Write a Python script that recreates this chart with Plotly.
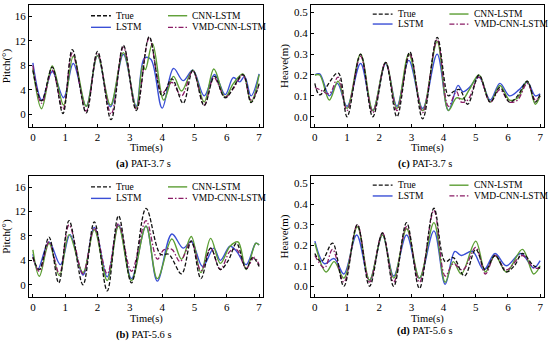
import plotly.graph_objects as go

# ---------------- data ----------------
# (a) Pitch, PAT-3.7 s
A_TRUE_T = [0, 0.27, 0.6, 0.93, 1.22, 1.65, 2.0, 2.42, 2.8, 3.2, 3.6, 4.0, 4.3, 4.65, 4.95, 5.3, 5.62, 5.95, 6.5, 6.75, 7.0]
A_TRUE_Y = [7.2, 2.2, 7.7, 0.1, 10.6, 0.2, 10.3, -0.9, 11.3, 0.6, 12.7, 3.0, 5.8, 1.8, 7.2, 1.4, 6.2, 2.7, 6.5, 1.9, 5.0]
A_LSTM_T = [0, 0.28, 0.6, 0.95, 1.25, 1.65, 2.0, 2.4, 2.8, 3.2, 3.45, 3.65, 4.0, 4.35, 4.65, 4.95, 5.3, 5.62, 5.95, 6.2, 6.4, 6.55, 6.75, 7.0]
A_LSTM_Y = [8.4, 2.3, 7.0, 2.7, 8.3, 1.3, 9.6, 1.2, 9.8, 1.3, 9.2, 9.0, 1.0, 7.5, 5.5, 7.2, 3.0, 6.5, 3.2, 6.0, 5.3, 6.2, 3.0, 6.6]
A_CNN_T = [0, 0.27, 0.6, 0.95, 1.25, 1.65, 2.0, 2.4, 2.8, 3.2, 3.4, 3.48, 3.7, 4.05, 4.35, 4.6, 4.95, 5.3, 5.6, 5.95, 6.2, 6.5, 6.75, 7.0]
A_CNN_Y = [7.5, 0.9, 7.9, 1.5, 9.5, 1.3, 9.6, 1.5, 10.1, 1.0, 8.0, 7.3, 11.6, 2.3, 6.2, 3.8, 7.2, 2.0, 7.4, 2.8, 5.0, 6.6, 2.0, 6.5]
A_VMD_T = [0, 0.27, 0.6, 0.93, 1.22, 1.65, 2.0, 2.42, 2.8, 3.2, 3.6, 4.0, 4.3, 4.6, 4.95, 5.3, 5.6, 5.95, 6.2, 6.5, 6.75, 7.0]
A_VMD_Y = [8.0, 1.8, 7.2, 0.8, 10.0, 0.5, 10.0, 0.0, 11.0, 0.8, 12.5, 3.5, 5.2, 3.0, 7.1, 1.5, 6.0, 2.8, 4.2, 6.4, 2.3, 4.8]

# (b) Pitch, PAT-5.6 s
B_TRUE_T = [0, 0.2, 0.5, 0.8, 1.12, 1.55, 1.9, 2.3, 2.65, 3.05, 3.5, 3.95, 4.2, 4.6, 4.9, 5.2, 5.5, 5.8, 6.05, 6.3, 6.6, 6.8, 7.0]
B_TRUE_Y = [4.5, 2.5, 7.8, 0.3, 10.5, 0.0, 10.3, -1.0, 11.3, 0.3, 12.5, 5.0, 5.0, 1.8, 7.2, 1.0, 6.0, 2.5, 4.0, 6.8, 2.6, 4.5, 3.0]
B_LSTM_T = [0, 0.15, 0.5, 0.85, 1.15, 1.55, 1.9, 2.3, 2.65, 3.05, 3.5, 3.85, 4.3, 4.65, 4.9, 5.25, 5.6, 5.8, 6.1, 6.3, 6.6, 6.9, 7.0]
B_LSTM_Y = [5.0, 2.5, 7.0, 3.3, 8.2, 1.6, 9.4, 1.3, 9.8, 1.0, 9.6, 0.6, 8.3, 6.0, 7.1, 3.0, 6.0, 4.0, 6.3, 5.5, 3.3, 6.8, 6.5]
B_CNN_T = [0, 0.2, 0.5, 0.82, 1.12, 1.55, 1.9, 2.3, 2.65, 3.05, 3.5, 3.85, 4.3, 4.6, 4.9, 5.2, 5.5, 5.8, 6.1, 6.35, 6.6, 6.9, 7.0]
B_CNN_Y = [5.7, 1.4, 6.8, 1.5, 8.2, 2.0, 9.0, 0.7, 9.6, 0.7, 9.6, 1.0, 7.5, 4.2, 7.9, 2.0, 7.6, 3.5, 6.3, 7.0, 2.5, 6.8, 6.5]
B_VMD_T = [0, 0.2, 0.5, 0.82, 1.12, 1.55, 1.9, 2.3, 2.65, 3.05, 3.5, 3.85, 4.05, 4.3, 4.55, 4.9, 5.2, 5.5, 5.8, 6.1, 6.3, 6.6, 6.85, 7.0]
B_VMD_Y = [4.5, 2.2, 7.0, 1.8, 9.8, 1.8, 9.3, 1.8, 10.0, 2.2, 10.5, 4.2, 5.7, 5.8, 3.8, 7.0, 2.3, 6.0, 2.5, 5.5, 5.8, 2.7, 4.5, 3.2]

# (c) Heave, PAT-3.7 s
C_TRUE_T = [0, 0.15, 0.72, 1.0, 1.42, 1.8, 2.2, 2.55, 2.95, 3.35, 3.8, 4.15, 4.3, 4.5, 4.75, 5.1, 5.45, 5.75, 6.05, 6.3, 6.6, 6.85, 7.0]
C_TRUE_Y = [0.16, 0.105, 0.21, 0.0, 0.30, 0.0, 0.26, 0.0, 0.31, -0.01, 0.38, 0.10, 0.12, 0.13, 0.06, 0.20, 0.07, 0.14, 0.07, 0.10, 0.17, 0.07, 0.11]
C_LSTM_T = [0, 0.15, 0.45, 0.7, 1.0, 1.42, 1.8, 2.2, 2.55, 2.92, 3.35, 3.8, 4.15, 4.45, 4.6, 4.8, 5.1, 5.45, 5.75, 6.05, 6.35, 6.6, 6.85, 7.0]
C_LSTM_Y = [0.20, 0.205, 0.10, 0.16, 0.05, 0.255, 0.03, 0.255, 0.05, 0.27, 0.04, 0.30, 0.03, 0.15, 0.12, 0.14, 0.19, 0.08, 0.16, 0.10, 0.13, 0.165, 0.10, 0.11]
C_CNN_T = [0, 0.15, 0.45, 0.72, 1.0, 1.42, 1.8, 2.2, 2.55, 2.92, 3.35, 3.8, 4.15, 4.4, 4.6, 4.8, 5.1, 5.45, 5.75, 6.05, 6.3, 6.6, 6.85, 7.0]
C_CNN_Y = [0.20, 0.20, 0.08, 0.17, 0.04, 0.30, 0.03, 0.26, 0.04, 0.30, 0.03, 0.36, 0.03, 0.09, 0.085, 0.13, 0.20, 0.07, 0.15, 0.08, 0.09, 0.17, 0.06, 0.10]
C_VMD_T = [0, 0.15, 0.45, 0.72, 1.0, 1.42, 1.8, 2.2, 2.55, 2.95, 3.35, 3.8, 4.15, 4.4, 4.55, 4.75, 5.1, 5.45, 5.75, 6.05, 6.3, 6.6, 6.85, 7.0]
C_VMD_Y = [0.14, 0.13, 0.11, 0.19, 0.03, 0.29, 0.02, 0.26, 0.03, 0.30, 0.02, 0.37, 0.05, 0.12, 0.07, 0.08, 0.19, 0.07, 0.13, 0.07, 0.08, 0.16, 0.08, 0.10]

# (d) Heave, PAT-5.6 s
D_TRUE_T = [0, 0.2, 0.55, 0.9, 1.32, 1.7, 2.1, 2.45, 2.85, 3.25, 3.7, 4.05, 4.3, 4.65, 5.0, 5.3, 5.6, 5.95, 6.2, 6.45, 6.8, 7.0]
D_TRUE_Y = [0.16, 0.12, 0.21, 0.0, 0.30, 0.0, 0.26, 0.0, 0.31, -0.01, 0.38, 0.12, 0.14, 0.05, 0.18, 0.08, 0.15, 0.07, 0.10, 0.16, 0.10, 0.09]
D_LSTM_T = [0, 0.3, 0.6, 0.9, 1.3, 1.7, 2.1, 2.45, 2.85, 3.25, 3.7, 4.05, 4.35, 4.55, 4.9, 5.25, 5.6, 5.95, 6.4, 6.8, 7.0]
D_LSTM_Y = [0.22, 0.11, 0.135, 0.06, 0.25, 0.03, 0.25, 0.05, 0.25, 0.04, 0.27, 0.01, 0.17, 0.15, 0.17, 0.08, 0.16, 0.10, 0.16, 0.09, 0.125]
D_CNN_T = [0, 0.35, 0.6, 0.9, 1.32, 1.7, 2.1, 2.45, 2.85, 3.25, 3.7, 4.05, 4.3, 4.55, 5.0, 5.3, 5.6, 5.95, 6.45, 6.8, 7.0]
D_CNN_Y = [0.21, 0.07, 0.12, 0.04, 0.29, 0.03, 0.25, 0.04, 0.28, 0.04, 0.31, 0.02, 0.12, 0.06, 0.22, 0.07, 0.15, 0.07, 0.18, 0.06, 0.10]
D_VMD_T = [0, 0.3, 0.55, 0.9, 1.32, 1.7, 2.1, 2.45, 2.85, 3.25, 3.7, 4.05, 4.3, 4.6, 5.0, 5.3, 5.6, 5.95, 6.45, 6.8, 7.0]
D_VMD_Y = [0.15, 0.09, 0.18, 0.02, 0.30, 0.02, 0.26, 0.02, 0.29, 0.02, 0.37, 0.05, 0.11, 0.08, 0.19, 0.06, 0.15, 0.08, 0.15, 0.09, 0.09]

SERIES_NAMES = ["True", "LSTM", "CNN-LSTM", "VMD-CNN-LSTM"]
X_TICKS = [0, 1, 2, 3, 4, 5, 6, 7]
PITCH_TICKS = [0, 4, 8, 12, 16]
HEAVE_TICKS = [0.0, 0.1, 0.2, 0.3, 0.4, 0.5]
X_TITLE = "Time(s)"
CAPTIONS = ["<b>(a)</b> PAT-3.7 s", "<b>(c)</b> PAT-3.7 s", "<b>(b)</b> PAT-5.6 s", "<b>(d)</b> PAT-5.6 s"]

# ---------------- styling ----------------
FONT = "Liberation Serif"
STYLE = {
    "True": dict(color="#111111", dash="4px,2px", width=1.3),
    "LSTM": dict(color="#3a4fd6", dash="solid", width=1.4),
    "CNN-LSTM": dict(color="#5c9e34", dash="solid", width=1.4),
    "VMD-CNN-LSTM": dict(color="#8a1c66", dash="5px,2px,1.5px,2px", width=1.3),
}

panels = [
    ("", [(A_TRUE_T, A_TRUE_Y), (A_LSTM_T, A_LSTM_Y), (A_CNN_T, A_CNN_Y), (A_VMD_T, A_VMD_Y)],
     [29 / 550, 263 / 550], [1 - 127 / 343, 1 - 5 / 343], [-2.1, 17.9], PITCH_TICKS, "Pitch(°)"),
    ("2", [(C_TRUE_T, C_TRUE_Y), (C_LSTM_T, C_LSTM_Y), (C_CNN_T, C_CNN_Y), (C_VMD_T, C_VMD_Y)],
     [311 / 550, 544 / 550], [1 - 127 / 343, 1 - 5 / 343], [-0.049, 0.535], HEAVE_TICKS, "Heave(m)"),
    ("3", [(B_TRUE_T, B_TRUE_Y), (B_LSTM_T, B_LSTM_Y), (B_CNN_T, B_CNN_Y), (B_VMD_T, B_VMD_Y)],
     [29 / 550, 263 / 550], [1 - 297 / 343, 1 - 176 / 343], [-2.0, 17.8], PITCH_TICKS, "Pitch(°)"),
    ("4", [(D_TRUE_T, D_TRUE_Y), (D_LSTM_T, D_LSTM_Y), (D_CNN_T, D_CNN_Y), (D_VMD_T, D_VMD_Y)],
     [311 / 550, 544 / 550], [1 - 297 / 343, 1 - 176 / 343], [-0.052, 0.537], HEAVE_TICKS, "Heave(m)"),
]
LEGEND_ROWS = [(0.912, 0.817), (0.926, 0.844), (0.91, 0.815), (0.924, 0.835)]
XTITLE_Y = [1 - 148 / 343, 1 - 148 / 343, 1 - 319 / 343, 1 - 319 / 343]
CAPTION_Y = [1 - 164 / 343, 1 - 164 / 343, 1 - 335 / 343, 1 - 331 / 343]

fig = go.Figure()
shapes = []
annotations = []

draw_order = [1, 2, 3, 0]  # LSTM, CNN-LSTM, VMD, True on top
for pi, (suf, data, xd, yd, yr, yt, ytitle) in enumerate(panels):
    for si in draw_order:
        t, y = data[si]
        name = SERIES_NAMES[si]
        fig.add_trace(go.Scatter(
            x=t, y=y, mode="lines", name=name, showlegend=False,
            line=dict(shape="spline", smoothing=1.0, **STYLE[name]),
            xaxis="x" + suf, yaxis="y" + suf,
        ))
    axis_common = dict(showline=True, linecolor="black", linewidth=1, mirror=True,
                       ticks="inside", ticklen=3, tickcolor="black", showgrid=False,
                       zeroline=False, automargin=False,
                       tickfont=dict(family=FONT, size=11, color="black"))
    fig.update_layout(**{
        "xaxis" + suf: dict(domain=xd, range=[-0.12, 7.12], tickvals=X_TICKS,
                            anchor="y" + suf, **axis_common),
        "yaxis" + suf: dict(domain=yd, range=yr, tickvals=yt,
                            tickformat=".1f" if ytitle.startswith("Heave") else "d",
                            anchor="x" + suf,
                            title=dict(text=ytitle, standoff=3,
                                       font=dict(family=FONT, size=11, color="black")),
                            **axis_common),
    })
    xr = ("x" + suf if suf else "x") + " domain"
    yrf = ("y" + suf if suf else "y") + " domain"
    r1, r2 = LEGEND_ROWS[pi]
    cols = [(0.265, 0.35, 0.365), (0.594, 0.676, 0.69)]
    entries = [("True", 0, r1), ("LSTM", 0, r2), ("CNN-LSTM", 1, r1), ("VMD-CNN-LSTM", 1, r2)]
    for name, ci, ry in entries:
        x0, x1, xt = cols[ci]
        st = STYLE[name]
        shapes.append(dict(type="line", xref=xr, yref=yrf, x0=x0, x1=x1, y0=ry, y1=ry,
                           line=dict(color=st["color"], width=st["width"], dash=st["dash"])))
        annotations.append(dict(xref=xr, yref=yrf, x=xt, y=ry, text=name, showarrow=False,
                                xanchor="left", yanchor="middle",
                                font=dict(family=FONT, size=9.5, color="black")))
    xc = (xd[0] + xd[1]) / 2
    annotations.append(dict(xref="paper", yref="paper", x=xc, y=XTITLE_Y[pi],
                            text=X_TITLE, showarrow=False, xanchor="center", yanchor="middle",
                            font=dict(family=FONT, size=10.5, color="black")))
    annotations.append(dict(xref="paper", yref="paper", x=xc - 0.004, y=CAPTION_Y[pi],
                            text=CAPTIONS[pi], showarrow=False, xanchor="center", yanchor="middle",
                            font=dict(family=FONT, size=10.5, color="black")))

fig.update_layout(width=550, height=343, margin=dict(l=0, r=0, t=0, b=0),
                  paper_bgcolor="white", plot_bgcolor="white",
                  shapes=shapes, annotations=annotations, showlegend=False)
fig.write_html("out.html", config={"displayModeBar": False},
               post_script="document.body.style.margin='0';document.body.style.overflow='hidden';")
